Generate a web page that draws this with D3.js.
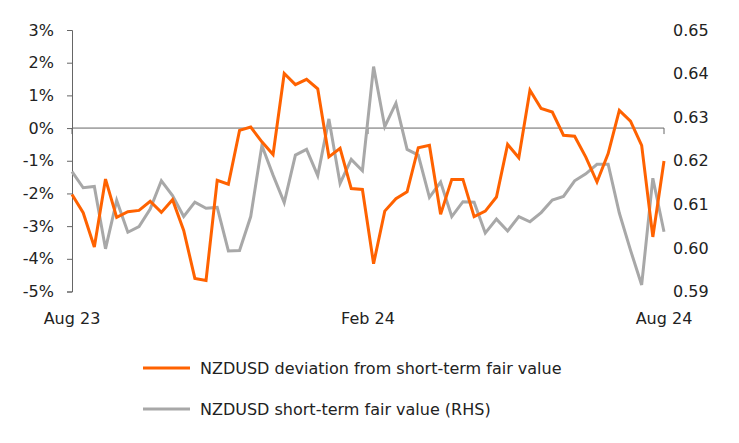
<!DOCTYPE html>
<html><head><meta charset="utf-8">
<script src="https://cdn.jsdelivr.net/npm/d3@7"></script>
<style>body{margin:0;background:#fff}text{font-family:"DejaVu Sans",sans-serif;fill:#222}</style>
</head><body>
<svg id="c" width="739" height="443"></svg>
<script>
// weekly observations, Aug 23 -> Aug 24
const deviation = [-2.03,-2.59,-3.64,-1.56,-2.73,-2.56,-2.52,-2.24,-2.58,-2.19,-3.13,-4.60,-4.66,-1.60,-1.72,-0.07,0.03,-0.42,-0.81,1.67,1.33,1.49,1.20,-0.88,-0.62,-1.85,-1.88,
  -4.15,-2.54,-2.16,-1.95,-0.60,-0.53,-2.64,-1.57,-1.57,-2.71,-2.54,-2.11,-0.50,-0.91,1.16,0.60,0.49,-0.22,-0.25,-0.89,-1.65,-0.78,0.54,0.21,-0.53,-3.33,-1.01];
const fairValue = [0.6175,0.6138,0.6141,0.5998,0.6109,0.6036,0.6049,0.6089,0.6154,0.6120,0.6072,0.6105,0.6091,0.6093,0.5993,0.5994,0.6072,0.6235,0.6167,0.6104,0.6213,0.6226,0.6166,0.6296,0.6148,0.6203,0.6177,
  0.6416,0.6278,0.6332,0.6226,0.6213,0.6116,0.6151,0.6072,0.6106,0.6105,0.6034,0.6066,0.6039,0.6072,0.6060,0.6081,0.6110,0.6118,0.6154,0.6170,0.6192,0.6192,0.6080,0.5995,0.5915,0.6160,0.6037];
const xTickPos = [0, 26.5, 53];
const xTickLabels = ["Aug 23", "Feb 24", "Aug 24"];
const leftTicks = [3,2,1,0,-1,-2,-3,-4,-5];
const rightTicks = [0.65,0.64,0.63,0.62,0.61,0.60,0.59];
const seriesNames = ["NZDUSD deviation from short-term fair value", "NZDUSD short-term fair value (RHS)"];
const colors = ["#ff6200", "#a8a8a8"];
const fs = 16;

const svg = d3.select("#c");
const x = d3.scaleLinear().domain([0, 53]).range([72, 664]);
const yL = d3.scaleLinear().domain([-5, 3]).range([291.5, 30]);
const yR = d3.scaleLinear().domain([0.59, 0.65]).range([291.5, 30]);

// left axis
const la = svg.append("g").attr("transform", "translate(72,0)")
  .call(d3.axisLeft(yL).tickValues(leftTicks).tickSize(5).tickFormat(d => d + "%"));
la.selectAll("path,line").attr("stroke", "#666");
la.selectAll("text").attr("font-size", fs).attr("x", -18).style("fill", "#222");

// right axis labels
const ra = svg.append("g").attr("transform", "translate(673,0)")
  .call(d3.axisRight(yR).tickValues(rightTicks).tickSize(0).tickFormat(d3.format(".2f")));
ra.select("path").remove();
ra.selectAll("text").attr("font-size", fs).attr("x", 0).style("fill", "#222");

// zero line with x ticks
svg.append("line").attr("x1", 72).attr("x2", 664).attr("y1", yL(0)).attr("y2", yL(0)).attr("stroke", "#666");
svg.selectAll(".xt").data(xTickPos).join("line")
  .attr("x1", d => x(d)).attr("x2", d => x(d)).attr("y1", yL(0)).attr("y2", yL(0) + 6).attr("stroke", "#666");
svg.selectAll(".xl").data(xTickPos).join("text")
  .attr("x", d => x(d)).attr("y", 324).attr("text-anchor", "middle").attr("font-size", fs)
  .text((d, i) => xTickLabels[i]);

svg.append("path").datum(fairValue).attr("fill", "none").attr("stroke", colors[1]).attr("stroke-width", 3)
  .attr("d", d3.line().x((d, i) => x(i)).y(d => yR(d)));
svg.append("path").datum(deviation).attr("fill", "none").attr("stroke", colors[0]).attr("stroke-width", 3)
  .attr("d", d3.line().x((d, i) => x(i)).y(d => yL(d)));

// legend
const lg = svg.selectAll(".lg").data(seriesNames).join("g").attr("transform", (d, i) => `translate(143,${368 + i * 41})`);
lg.append("line").attr("x1", 0).attr("x2", 47).attr("stroke", (d, i) => colors[i]).attr("stroke-width", 3);
lg.append("text").attr("x", 57).attr("y", 6).attr("font-size", fs).text(d => d);
</script>
</body></html>
